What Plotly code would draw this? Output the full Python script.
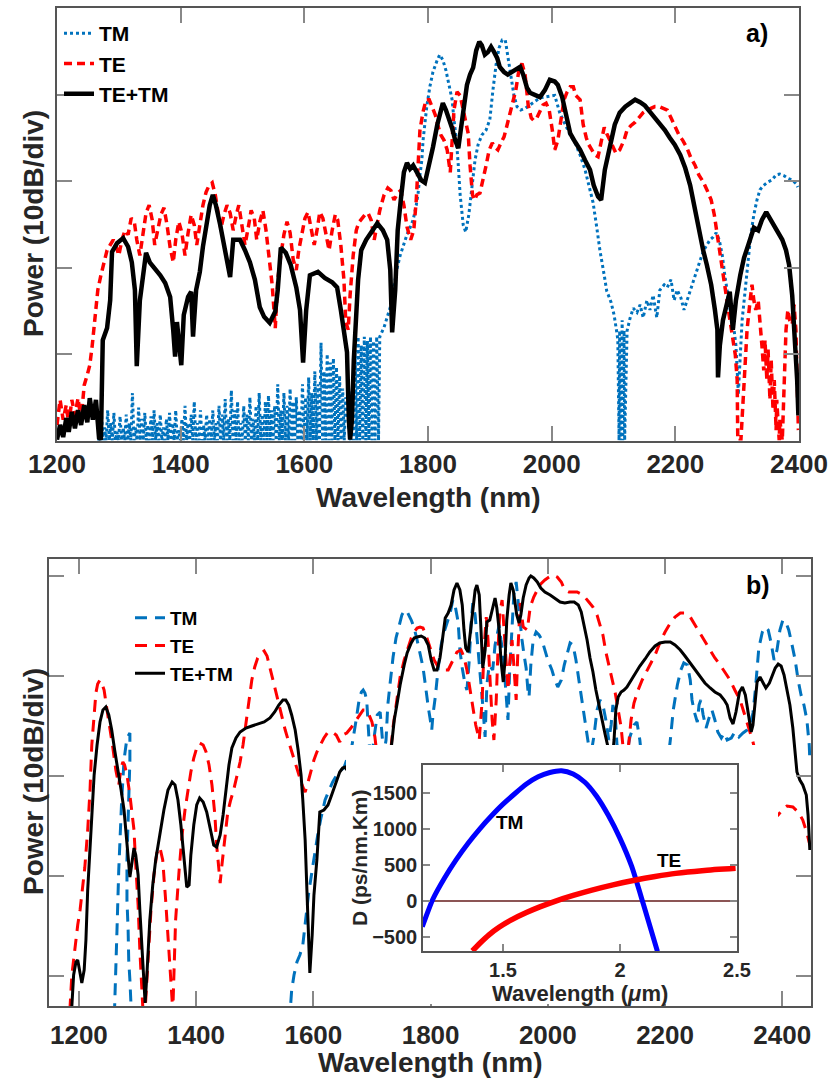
import plotly.graph_objects as go

W, H = 829, 1086
def px(x): return x / W
def py(y): return 1 - y / H

# ---------------- panel a) data (wavelength nm, power dB) ----------------
a_tm_comb_wl = [1272,1277,1282,1287,1292,1297,1302,1307,1312,1317,1322,1327,1332,1337,1342,1347,1352,1357,1362,1367,
                1372,1377,1382,1387,1392,1397,1402,1407,1412,1417,1422,1427,1432,1437,1442,1447,1452,1457,1462,1467,
                1472,1477,1482,1487,1492,1497,1502,1507,1512,1517,1522,1527,1532,1537,1542,1547,1552,1557,1562,1567,
                1572,1577,1582,1587,1592,1597,1602,1607,1612,1617,1622,1627,1632,1637,1642,1647,1652,1657,1662,1667,
                1677,1682,1687,1692,1697,1702,1707,1712,1717]
a_tm_comb_pk = [3.0,1.5,3.5,2.0,3.2,1.0,2.8,1.5,3.0,2.0,5.5,1.5,3.8,2.5,3.2,1.8,2.8,3.5,2.0,3.0,
                1.5,2.5,3.2,2.0,3.5,1.2,2.5,4.0,2.0,3.0,4.5,2.0,3.5,1.8,3.0,2.5,3.5,2.0,4.0,3.0,
                4.8,2.5,5.8,3.5,4.5,2.0,4.0,3.0,5.0,2.5,4.0,5.5,3.0,4.5,5.2,3.5,4.0,6.5,3.5,5.5,
                4.0,6.0,4.5,5.0,3.5,6.5,5.0,7.3,5.5,8.0,6.5,11.3,8.0,10.0,9.0,9.5,8.5,7.5,6.0,5.0,
                5.8,10.5,12.0,11.0,12.0,11.5,12.0,11.5,12.0]
a_tm_comb_floor = 0.0

a_tm_wl = [1722,1729,1739,1745,1750,1755,1760,1766,1771,1776,1781,1784,1787,1790,1792,1795,1798,1803,1808,1815,
           1819,1824,1829,1834,1839,1842,1846,1849,1852,1857,1861,1866,1871,1876,1881,1887,1894,1900,1905,1910,
           1915,1920,1925,1929,1934,1939,1944,1950,1957,1965,1973,1981,1989,1997,2005,2013,2022,2030,2038,2046,
           2054,2060,2067,2073,2078,2085,2089,2096,2101,2106,2107,2109,2110,2112,2114,2115,2117,2118,2122,2127,
           2132,2138,2143,2148,2154,2159,2164,2170,2175,2182,2187,2193,2198,2203,2209,2214,2219,2224,2230,2235,
           2240,2246,2251,2256,2261,2266,2271,2276,2280,2285,2290,2295,2298,2300,2302,2303,2305,2308,2313,2318,
           2322,2327,2332,2337,2343,2350,2356,2363,2369,2376,2382,2389,2395,2398]
a_tm_db = [12.0,13.1,15.4,18.0,19.9,21.4,22.6,23.8,24.6,25.5,27.2,28.6,30.7,32.4,34.7,37.1,38.6,40.9,42.6,44.0,
           44.6,44.0,42.8,41.1,39.4,37.1,34.7,31.8,28.4,24.9,24.1,26.1,29.5,32.4,34.2,35.3,35.9,37.1,40.5,43.4,
           45.4,46.3,46.3,44.6,42.3,39.9,38.6,38.2,38.4,38.8,39.1,39.6,39.7,39.8,39.9,37.9,36.5,35.3,34.4,33.0,
           31.3,29.5,27.5,24.6,22.0,19.1,17.3,16.0,14.5,12.2,11.6,0.0,12.7,0.0,13.9,0.0,12.7,0.0,12.7,14.2,
           15.3,14.8,15.7,14.2,16.2,15.1,16.8,14.2,17.4,18.0,17.7,18.6,16.2,17.4,16.5,15.1,16.2,17.4,18.6,19.9,
           20.8,22.0,22.6,23.2,23.5,24.0,23.2,21.4,19.1,16.6,14.5,12.8,11.0,8.1,5.3,7.0,10.5,13.9,17.4,20.8,
           23.8,26.1,27.8,29.0,29.5,29.9,30.1,30.7,30.8,30.6,30.3,30.1,29.7,29.3]

a_te_wl = [1200,1205,1210,1215,1219,1224,1229,1234,1239,1244,1249,1253,1257,1260,1263,1266,1271,1276,1281,1286,
           1291,1295,1300,1305,1310,1315,1320,1325,1329,1334,1339,1344,1349,1354,1358,1363,1368,1373,1378,1383,
           1388,1392,1397,1402,1407,1412,1417,1422,1426,1431,1436,1441,1446,1451,1456,1460,1465,1470,1475,1480,
           1485,1490,1494,1499,1504,1509,1514,1519,1523,1528,1533,1538,1543,1548,1553,1557,1562,1567,1572,1577,
           1582,1587,1591,1596,1601,1606,1611,1616,1621,1625,1630,1635,1640,1645,1650,1654,1659,1664,1667,1671,
           1674,1679,1684,1688,1693,1698,1703,1708,1713,1718,1722,1729,1735,1740,1745,1751,1756,1761,1766,1772,
           1777,1781,1784,1787,1792,1797,1802,1807,1812,1816,1821,1826,1831,1836,1839,1842,1847,1852,1857,1862,
           1865,1868,1872,1875,1879,1884,1889,1894,1899,1904,1908,1913,1918,1923,1928,1933,1937,1942,1947,1952,
           1957,1962,1967,1971,1976,1981,1986,1991,1996,2001,2005,2010,2015,2020,2025,2030,2035,2039,2046,2051,
           2056,2060,2065,2070,2075,2080,2085,2089,2094,2099,2104,2110,2117,2122,2128,2135,2141,2148,2154,2161,
           2167,2174,2180,2187,2193,2200,2206,2212,2219,2225,2232,2238,2245,2251,2258,2263,2267,2272,2277,2282,
           2287,2292,2297,2300,2301,2306,2311,2316,2321,2324,2327,2330,2334,2337,2340,2343,2345,2348,2350,2353,
           2355,2358,2360,2363,2364,2368,2369,2373,2376,2379,2382,2385,2389,2392,2395,2397,2399]
a_te_db = [1.8,4.7,2.4,4.1,1.8,4.7,2.9,4.9,2.4,6.4,7.6,8.7,11.0,13.4,15.7,17.4,19.1,20.6,22.0,22.6,
           23.2,22.6,21.4,23.2,24.3,23.8,25.7,25.3,23.2,21.4,24.0,26.3,27.2,25.5,22.6,24.5,26.1,26.9,24.9,22.3,
           20.6,23.2,25.3,24.0,21.4,24.0,26.1,24.9,22.6,24.9,27.2,28.7,29.5,29.8,28.4,26.6,24.5,26.1,27.2,26.3,
           24.3,26.1,27.2,24.9,22.6,24.5,26.6,25.7,23.2,25.3,26.6,24.3,21.4,18.0,13.0,18.6,21.4,23.8,25.3,24.0,
           20.9,19.7,22.0,24.0,25.7,26.4,24.5,22.6,24.5,26.4,25.7,23.8,22.0,24.3,26.1,25.5,22.6,18.6,13.7,12.8,
           16.8,21.4,24.3,25.2,25.7,26.1,26.3,25.5,23.2,24.9,26.6,28.4,29.2,28.9,27.8,28.6,28.9,27.2,24.7,23.2,
           24.3,27.8,33.0,35.9,38.0,39.4,39.4,38.5,37.6,36.4,35.3,34.7,33.6,31.0,34.7,38.2,40.3,39.9,38.2,36.5,
           35.5,31.8,28.4,27.8,28.4,28.6,30.1,31.8,33.6,34.4,33.9,33.6,34.4,35.1,36.5,38.0,39.1,40.5,42.8,43.6,
           42.3,38.8,37.3,37.0,37.3,38.0,38.8,39.0,38.2,35.9,33.6,34.7,37.1,39.4,40.3,40.9,40.9,39.9,39.4,36.5,
           35.0,34.2,33.6,33.0,32.8,34.7,36.2,35.5,34.7,33.8,33.2,33.6,34.7,35.9,36.4,36.8,37.3,37.9,38.2,38.4,
           38.6,38.6,38.4,38.2,37.3,36.1,35.3,34.7,33.8,32.7,31.8,30.7,29.9,29.0,27.8,26.1,24.1,21.4,18.9,16.8,
           14.5,12.2,9.9,7.0,0.0,0.0,7.0,12.8,16.2,18.0,16.2,15.1,16.2,13.9,11.0,8.1,11.6,7.0,10.5,4.7,
           9.3,3.5,7.0,1.2,4.7,0.0,2.4,0.0,8.1,12.8,15.1,13.9,13.4,15.7,12.8,7.0,1.2]

a_sum_wl = [1200,1205,1210,1215,1219,1224,1229,1234,1239,1244,1249,1253,1258,1263,1268,1271,1274,1281,1286,1289,
            1297,1307,1315,1321,1326,1329,1334,1344,1350,1358,1367,1375,1383,1388,1391,1394,1401,1405,1412,1417,
            1420,1425,1431,1436,1443,1447,1452,1457,1464,1470,1477,1480,1485,1496,1504,1512,1520,1528,1535,1544,
            1553,1557,1562,1570,1578,1587,1593,1598,1603,1609,1622,1633,1645,1653,1659,1664,1669,1672,1674,1677,
            1680,1687,1692,1700,1708,1718,1727,1734,1739,1742,1747,1751,1756,1761,1766,1771,1776,1782,1789,1795,
            1802,1808,1815,1819,1824,1829,1834,1839,1844,1849,1853,1858,1863,1868,1873,1878,1883,1887,1892,1897,
            1902,1907,1912,1916,1923,1929,1936,1942,1949,1954,1960,1965,1973,1981,1989,1997,2005,2010,2017,2023,
            2030,2038,2046,2054,2062,2068,2075,2080,2086,2094,2102,2110,2119,2127,2135,2143,2151,2159,2167,2175,
            2183,2191,2199,2208,2216,2224,2230,2237,2245,2251,2258,2264,2268,2269,2272,2277,2284,2288,2293,2298,
            2305,2311,2318,2322,2327,2334,2340,2347,2353,2360,2366,2373,2379,2384,2389,2394,2397,2399]
a_sum_db = [0.1,1.8,0.4,2.6,1.0,3.3,1.4,3.5,1.8,4.1,2.1,4.9,2.4,4.7,0.3,0.1,11.6,13.0,16.2,21.8,
            22.8,23.4,22.4,20.6,17.4,8.6,16.2,21.7,20.6,19.9,19.1,18.2,16.6,12.7,9.7,13.7,8.7,14.5,16.6,17.2,
            12.0,17.4,19.5,22.4,25.3,27.2,28.4,27.2,24.9,22.6,20.6,18.9,23.2,23.2,22.0,20.6,18.6,15.4,14.3,13.6,
            14.9,17.4,22.3,21.7,20.3,17.7,15.1,9.0,15.1,19.1,19.5,18.8,18.3,17.7,15.1,12.8,10.2,2.4,0.1,2.4,
            9.3,18.6,22.0,23.2,24.1,25.1,24.3,23.2,19.7,12.5,17.4,24.3,27.8,31.0,32.1,31.4,31.8,31.0,30.1,29.8,
            31.8,33.9,36.5,37.9,39.0,38.2,37.3,36.1,34.7,33.8,35.9,38.2,41.1,42.3,43.1,45.1,46.1,45.7,44.6,44.9,
            45.5,44.9,44.2,43.2,42.6,42.3,42.6,42.8,43.2,42.3,40.8,40.2,40.0,39.7,40.5,41.7,41.5,41.1,39.7,37.6,
            35.5,34.5,33.6,32.4,31.3,29.5,28.2,27.8,31.3,33.9,36.5,37.9,38.6,39.0,39.4,39.1,38.7,38.0,37.3,36.7,
            35.9,35.0,34.2,33.0,31.5,29.5,27.2,24.9,22.0,20.3,18.0,15.1,12.8,7.3,11.0,13.9,16.2,17.2,12.8,16.2,
            19.1,21.1,22.6,23.4,24.6,24.3,25.5,26.4,25.7,24.9,24.1,23.2,22.0,20.3,16.8,11.6,7.0,2.9]

# ---------------- panel b) data ----------------
b_sum_wl = [1186,1188,1191,1195,1198,1202,1205,1209,1212,1215,1219,1222,1226,1231,1236,1241,1246,1251,1256,1261,
            1267,1272,1277,1280,1284,1287,1290,1294,1297,1301,1304,1308,1311,1313,1316,1321,1326,1331,1338,1345,
            1352,1359,1364,1369,1374,1379,1384,1388,1391,1396,1401,1406,1412,1418,1425,1430,1435,1441,1446,1451,
            1456,1461,1468,1475,1485,1495,1505,1516,1526,1534,1541,1548,1553,1558,1563,1569,1574,1579,1582,1586,
            1589,1592,1594,1598,1601,1606,1611,1618,1625,1630,1635,1640,1645,1650,1654,1680,1705,1727,1734,1738,
            1743,1748,1755,1760,1767,1772,1777,1784,1790,1796,1801,1806,1811,1816,1819,1825,1830,1835,1840,1845,
            1850,1854,1857,1860,1864,1867,1871,1876,1879,1883,1886,1889,1893,1896,1901,1905,1910,1913,1917,1920,
            1924,1927,1930,1934,1937,1941,1944,1947,1951,1954,1958,1963,1968,1971,1976,1982,1988,1995,2004,2012,
            2021,2029,2038,2045,2052,2057,2062,2067,2072,2077,2082,2087,2093,2098,2103,2106,2110,2113,2116,2120,
            2125,2130,2135,2142,2149,2157,2166,2174,2183,2191,2200,2209,2217,2226,2234,2243,2251,2260,2268,2277,
            2285,2294,2301,2306,2311,2316,2321,2327,2332,2337,2342,2347,2350,2354,2357,2362,2367,2372,2378,2383,
            2388,2393,2398,2403,2408,2413,2418,2422,2425,2430,2435,2441,2444,2447]
b_sum_db = [6.6,7.0,10.1,11.4,11.6,10.4,9.3,10.6,13.6,18.6,22.6,26.6,30.1,33.1,35.4,36.6,36.9,36.1,34.6,32.6,
            30.6,28.6,26.6,24.6,21.6,19.9,21.1,22.8,22.1,20.1,16.6,12.6,8.6,7.3,10.1,15.6,19.1,21.6,24.1,26.6,
            28.6,29.4,29.1,27.6,25.1,21.6,18.9,19.1,22.1,25.1,27.1,27.8,27.4,26.4,24.6,23.1,22.9,24.1,26.1,28.6,
            31.1,32.8,33.8,34.4,34.8,35.0,35.2,35.4,35.8,36.4,37.1,37.6,37.6,37.1,36.1,34.6,32.6,30.1,27.6,23.6,
            18.6,12.6,10.3,14.1,18.1,21.6,26.4,26.6,27.1,27.9,28.8,29.6,30.4,30.8,30.9,28.6,27.6,29.6,33.1,35.6,
            37.3,39.1,41.1,42.3,43.3,43.8,43.9,44.0,43.8,43.1,41.6,40.6,40.6,41.8,43.1,45.8,46.3,47.1,48.6,49.3,
            48.6,47.1,44.6,42.8,42.4,44.1,46.4,48.6,49.1,48.1,44.6,40.8,42.6,45.4,45.6,46.6,47.8,46.8,44.6,41.6,
            39.4,41.6,45.6,48.1,49.3,48.6,47.3,46.1,45.3,46.1,47.8,49.1,49.8,50.0,49.8,49.4,48.8,48.4,48.1,47.8,
            47.4,47.3,47.4,47.4,47.1,46.4,45.1,43.6,41.8,40.4,38.6,37.1,35.6,34.1,32.8,31.1,31.6,33.6,36.6,37.9,
            38.4,38.6,38.9,39.6,40.3,41.0,41.7,42.4,43.0,43.3,43.4,43.4,43.1,42.6,42.0,41.3,40.6,39.9,39.3,38.8,
            38.4,38.1,37.6,37.1,35.8,35.2,36.4,38.4,38.9,38.1,36.4,34.4,35.1,37.6,39.4,39.9,39.4,38.8,39.3,40.1,
            40.8,41.2,41.0,40.1,38.6,37.1,34.8,32.6,30.4,29.6,29.1,28.1,26.1,22.6]

b_te_wl = [1181,1185,1188,1193,1198,1202,1207,1210,1215,1219,1222,1226,1229,1232,1236,1239,1243,1248,1253,1258,
           1263,1268,1272,1275,1278,1282,1287,1290,1294,1297,1301,1304,1308,1311,1318,1323,1328,1333,1338,1343,
           1348,1354,1359,1360,1365,1371,1376,1381,1386,1391,1396,1401,1406,1412,1417,1422,1427,1432,1435,1439,
           1441,1444,1449,1454,1459,1464,1470,1475,1480,1485,1490,1495,1500,1505,1511,1516,1521,1526,1531,1536,
           1541,1546,1552,1557,1562,1567,1572,1577,1582,1586,1591,1596,1601,1606,1611,1618,1625,1632,1639,1645,
           1650,1657,1664,1671,1678,1685,1690,1695,1700,1705,1709,1717,1726,1731,1736,1743,1748,1755,1760,1767,
           1772,1777,1782,1787,1792,1799,1806,1813,1821,1830,1838,1845,1852,1857,1862,1867,1872,1877,1883,1888,
           1891,1895,1898,1901,1905,1908,1912,1915,1918,1922,1925,1929,1932,1935,1939,1942,1946,1949,1953,1958,
           1965,1970,1976,1982,1988,1995,2002,2009,2016,2023,2029,2036,2043,2050,2057,2063,2070,2077,2084,2089,
           2094,2099,2104,2110,2115,2120,2125,2128,2132,2137,2142,2147,2154,2161,2168,2174,2183,2191,2200,2209,
           2217,2226,2234,2243,2251,2260,2268,2277,2285,2294,2302,2311,2319,2328,2336,2343,2350,2355,2371,2383,
           2393,2400,2408,2418,2427,2435,2442,2447]
b_te_db = [6.6,7.0,10.1,12.9,15.1,16.6,19.1,20.8,24.6,28.6,33.1,36.4,38.3,39.2,39.6,39.3,38.6,36.6,34.9,32.8,
           30.6,29.1,30.8,31.4,31.1,30.1,28.1,26.6,24.6,21.1,17.1,12.6,7.0,4.6,11.6,16.6,20.1,22.3,22.9,21.6,
           17.6,12.6,7.6,6.1,15.6,20.6,24.1,26.6,28.6,30.4,31.8,32.8,33.3,33.1,32.4,31.1,29.1,26.1,23.1,20.1,
           19.3,21.1,24.1,26.4,27.6,28.6,30.1,31.4,33.1,35.4,37.6,39.6,40.9,41.8,42.3,42.5,42.0,40.8,39.6,38.3,
           37.1,35.8,34.6,33.6,32.6,31.6,30.6,29.8,28.9,28.4,29.4,30.6,31.6,32.4,33.0,33.8,34.4,34.4,34.1,33.4,
           34.1,34.3,34.8,35.4,36.0,36.6,36.6,36.1,35.4,33.9,31.9,28.6,29.6,31.9,34.9,37.6,39.9,41.6,42.6,43.8,
           44.4,44.8,44.9,44.8,44.1,42.9,41.6,40.9,40.6,40.6,41.6,42.4,42.6,41.9,40.6,38.6,37.1,35.1,33.6,37.6,
           42.6,45.9,43.6,39.6,35.6,33.6,37.6,42.6,46.3,47.6,45.1,41.6,38.6,41.3,43.6,41.1,37.6,42.6,47.3,44.9,
           44.6,46.9,47.9,48.6,49.2,49.6,49.9,50.1,49.9,49.4,48.6,48.4,48.4,48.4,48.2,47.9,47.4,46.9,46.1,45.1,
           44.1,42.4,41.1,39.6,38.3,36.6,34.9,33.1,31.6,32.6,35.6,37.3,38.6,39.6,40.4,41.1,42.1,43.3,44.4,45.3,
           45.9,46.3,46.3,45.9,45.1,44.3,43.4,42.6,41.8,41.1,40.4,39.6,38.6,37.6,36.1,34.8,33.4,32.1,28.6,25.6,
           26.1,26.6,27.0,26.9,26.4,25.6,24.3,23.1]

b_tm_wl = [1258,1261,1265,1268,1273,1277,1282,1287,1287,1285,1284,1282,1282,1284,1285,1287,1289,1292,1560,1563,
           1567,1572,1577,1582,1587,1592,1598,1603,1608,1613,1620,1627,1633,1640,1647,1652,1666,1673,1678,1682,
           1685,1688,1691,1693,1695,1698,1703,1709,1714,1717,1720,1724,1727,1731,1736,1741,1746,1751,1756,1761,
           1767,1772,1777,1782,1787,1790,1794,1796,1799,1802,1804,1808,1813,1818,1823,1828,1833,1838,1842,1847,
           1850,1854,1859,1862,1866,1869,1872,1876,1879,1883,1886,1889,1893,1896,1900,1903,1906,1910,1913,1917,
           1920,1924,1927,1930,1932,1935,1939,1942,1946,1949,1953,1956,1959,1963,1966,1968,1971,1975,1980,1985,
           1990,1995,2000,2007,2012,2017,2023,2028,2033,2038,2043,2048,2053,2058,2064,2069,2072,2079,2084,2089,
           2094,2099,2104,2108,2111,2115,2118,2123,2133,2140,2147,2152,2157,2162,2183,2205,2209,2214,2221,2227,
           2232,2238,2243,2246,2250,2255,2258,2261,2265,2270,2275,2280,2285,2290,2296,2301,2306,2313,2319,2326,
           2333,2340,2345,2350,2354,2357,2360,2366,2371,2376,2381,2386,2391,2396,2401,2406,2411,2416,2422,2427,
           2432,2437,2442,2446,2447]
b_tm_db = [6.1,7.0,14.6,20.6,27.6,31.6,33.8,34.3,31.6,28.6,25.6,21.6,17.6,14.6,11.6,9.6,7.0,5.6,6.1,8.6,
           10.1,11.4,12.1,13.1,15.6,18.3,20.6,22.6,24.3,25.8,27.6,28.6,29.4,30.1,30.6,30.8,33.1,35.6,37.6,38.4,
           38.6,38.3,37.6,35.6,33.1,30.6,33.6,36.1,36.4,34.6,32.1,33.6,37.1,39.3,41.9,43.8,45.1,46.1,46.6,46.3,
           45.6,44.8,43.6,42.4,40.9,39.6,37.6,36.9,35.8,34.6,36.1,37.9,40.8,43.1,44.4,45.4,46.2,47.6,47.0,45.4,
           42.6,40.8,39.1,38.6,41.6,45.1,47.3,46.1,44.1,41.6,39.6,37.1,33.9,39.1,41.1,40.9,40.6,43.1,44.1,45.1,
           43.6,42.1,39.6,37.6,35.6,40.6,45.6,48.1,49.4,47.6,45.1,43.6,42.3,40.8,38.6,37.9,41.1,43.6,44.4,44.1,
           43.6,42.6,41.6,40.6,39.6,38.9,39.6,41.1,42.1,43.3,43.1,41.6,39.6,37.6,35.6,33.3,31.6,34.1,36.6,37.6,
           37.1,35.6,33.6,35.1,37.1,36.1,33.1,30.6,31.6,33.9,35.1,35.4,33.6,30.6,28.6,31.6,33.6,36.6,39.1,40.6,
           41.3,41.1,39.6,37.6,36.4,35.4,37.1,37.6,36.1,34.8,35.8,36.6,35.6,34.4,33.8,34.3,33.6,33.8,34.4,33.9,
           34.3,34.6,35.1,36.3,38.6,40.8,42.8,44.4,44.9,44.6,43.3,41.6,42.6,44.6,45.6,45.4,44.6,43.3,41.6,39.6,
           38.1,37.1,35.6,33.1,31.6]

# ---------------- inset: dispersion (ps/nm.km) vs wavelength (um) ----------------
in_tm_um = [1.155,1.20,1.25,1.30,1.35,1.40,1.45,1.50,1.55,1.60,1.65,1.70,1.75,1.80,1.85,1.90,1.95,2.00,2.05,2.10,2.16]
in_tm_D = [-357,25,320,575,800,1000,1180,1345,1490,1625,1725,1785,1810,1765,1650,1455,1190,870,480,-45,-700]
in_te_um = [1.369,1.40,1.44,1.483,1.54,1.60,1.66,1.725,1.80,1.88,1.97,2.067,2.15,2.238,2.35,2.494]
in_te_D = [-694,-590,-470,-365,-255,-160,-78,0,78,152,225,292,340,384,422,454]

BLUE = '#0072BD'
RED = '#FF0000'
FONT = 'Liberation Sans, Arial, sans-serif'

# TM comb below ~1720 nm: read peak heights, each returning to the floor
comb_x, comb_y = [], []
for w, p in zip(a_tm_comb_wl, a_tm_comb_pk):
    comb_x += [w - 2.5, w]
    comb_y += [a_tm_comb_floor, p]
a_tm_all_wl = [1265] + comb_x + [1720] + a_tm_wl
a_tm_all_db = [a_tm_comb_floor] + comb_y + [a_tm_comb_floor] + a_tm_db

fig = go.Figure()

# panel a
fig.add_trace(go.Scatter(x=a_tm_all_wl, y=a_tm_all_db, mode='lines', name='TM',
                         line=dict(color=BLUE, width=3, dash='dot'), xaxis='x', yaxis='y', legend='legend'))
fig.add_trace(go.Scatter(x=a_te_wl, y=a_te_db, mode='lines', name='TE',
                         line=dict(color=RED, width=3.5, dash='8px,5px'), xaxis='x', yaxis='y', legend='legend'))
fig.add_trace(go.Scatter(x=a_sum_wl, y=a_sum_db, mode='lines', name='TE+TM',
                         line=dict(color='black', width=4.5), xaxis='x', yaxis='y', legend='legend'))

# panel b
fig.add_trace(go.Scatter(x=b_tm_wl, y=b_tm_db, mode='lines', name='TM',
                         line=dict(color=BLUE, width=3, dash='12px,8px'), xaxis='x2', yaxis='y2', legend='legend2'))
fig.add_trace(go.Scatter(x=b_te_wl, y=b_te_db, mode='lines', name='TE',
                         line=dict(color=RED, width=3, dash='12px,8px'), xaxis='x2', yaxis='y2', legend='legend2'))
fig.add_trace(go.Scatter(x=b_sum_wl, y=b_sum_db, mode='lines', name='TE+TM',
                         line=dict(color='black', width=3), xaxis='x2', yaxis='y2', legend='legend2'))

# white backing of the inset (hides the main curves behind it)
fig.add_trace(go.Scatter(x=[0, 1, 1, 0, 0], y=[0, 0, 1, 1, 0], mode='lines', fill='toself',
                         fillcolor='white', line=dict(width=0, color='white'), showlegend=False,
                         hoverinfo='skip', xaxis='x3', yaxis='y3'))

# inset
fig.add_trace(go.Scatter(x=in_tm_um, y=in_tm_D, mode='lines',
                         line=dict(color='#0000FF', width=5, shape='spline', smoothing=0.6),
                         showlegend=False, xaxis='x4', yaxis='y4'))
fig.add_trace(go.Scatter(x=in_te_um, y=in_te_D, mode='lines',
                         line=dict(color=RED, width=5.5, shape='spline', smoothing=0.8),
                         showlegend=False, xaxis='x4', yaxis='y4'))

axcommon = dict(showgrid=False, zeroline=False, showline=True, linecolor='#555555', linewidth=1.5,
                ticks='inside', tickcolor='#888888', tickwidth=1.5, mirror='ticks', automargin=False)

tickfont = dict(family=FONT, size=26, color='#262626', weight='bold')
fig.update_layout(
    width=W, height=H, margin=dict(l=0, r=0, t=0, b=0, autoexpand=False),
    paper_bgcolor='white', plot_bgcolor='white',
    xaxis=dict(**axcommon, domain=[px(57), px(799)], range=[1200, 2400], anchor='y',
               tickvals=[1200, 1400, 1600, 1800, 2000, 2200, 2400], ticklen=15, tickfont=tickfont),
    yaxis=dict(**axcommon, domain=[py(440.5), py(8)], range=[0, 50], anchor='x',
               tickvals=[10, 20, 30, 40], ticklen=15, showticklabels=False),
    xaxis2=dict(**axcommon, domain=[px(49), px(811)], range=[1149, 2449], anchor='y2',
                tickvals=[1200, 1400, 1600, 1800, 2000, 2200, 2400], ticklen=15, tickfont=tickfont,
                ticklabelstandoff=5),
    yaxis2=dict(**axcommon, domain=[py(1006), py(559)], range=[7, 51.7], anchor='x2',
                tickvals=[10, 20, 30, 40, 50], ticklen=15, showticklabels=False),
    xaxis3=dict(domain=[px(346), px(778)], range=[0, 1], visible=False, anchor='y3', automargin=False),
    yaxis3=dict(domain=[py(1004), py(745)], range=[0, 1], visible=False, anchor='x3', automargin=False),
    xaxis4=dict(**axcommon, domain=[px(423), px(737)], range=[1.158, 2.5], anchor='y4',
                tickvals=[1.5, 2, 2.5], ticktext=['1.5', '2', '2.5'], ticklen=7,
                tickfont=dict(family=FONT, size=20, color='#262626', weight='bold')),
    yaxis4=dict(showgrid=False, showline=True, linecolor='#555555', linewidth=1.5, automargin=False,
                ticks='inside', tickcolor='#888888', tickwidth=1.5, mirror='ticks',
                domain=[py(951), py(765)], range=[-694, 1889], anchor='x4',
                tickvals=[-500, 0, 500, 1000, 1500], ticklen=7,
                zeroline=True, zerolinecolor='#8C5555', zerolinewidth=2,
                tickfont=dict(family=FONT, size=20, color='#262626', weight='bold')),
    legend=dict(x=px(59), y=py(13), xanchor='left', yanchor='top', bgcolor='rgba(0,0,0,0)',
                font=dict(family=FONT, size=21, color='black', weight='bold'), tracegroupgap=0),
    legend2=dict(x=px(130), y=py(599), xanchor='left', yanchor='top', bgcolor='rgba(0,0,0,0)',
                 font=dict(family=FONT, size=19, color='black', weight='bold'), tracegroupgap=0),
    showlegend=True,
)

def ann(x, y, text, size, angle=0, color='#262626'):
    fig.add_annotation(x=px(x), y=py(y), xref='paper', yref='paper', text=text, showarrow=False,
                       textangle=angle, xanchor='center', yanchor='middle',
                       font=dict(family=FONT, size=size, color=color, weight='bold'))

ann(33, 224, 'Power (10dB/div)', 28, -90)
ann(428, 497, 'Wavelength (nm)', 28)
ann(33, 782, 'Power (10dB/div)', 28, -90)
ann(430, 1062, 'Wavelength (nm)', 28)
ann(757, 33, 'a)', 25, color='black')
ann(758, 585, 'b)', 25, color='black')
ann(580, 993, 'Wavelength (<i>μ</i>m)', 22)
ann(359, 858, 'D (ps/nm.Km)', 21, -90)

fig.add_annotation(x=1.526, y=1097, xref='x4', yref='y4', text='TM', showarrow=False,
                   font=dict(family=FONT, size=19, color='black', weight='bold'))
fig.add_annotation(x=2.209, y=569, xref='x4', yref='y4', text='TE', showarrow=False,
                   font=dict(family=FONT, size=19, color='black', weight='bold'))

fig.write_html('out.html')
